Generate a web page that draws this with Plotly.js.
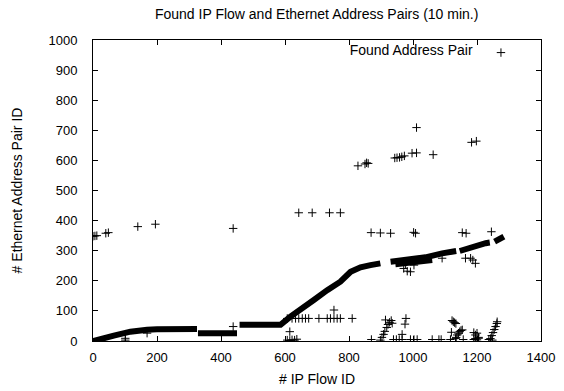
<!DOCTYPE html>
<html>
<head>
<meta charset="utf-8">
<script src="https://cdn.plot.ly/plotly-3.0.1.min.js"></script>
<style>html,body{margin:0;padding:0;background:#fff;}#chart{width:564px;height:391px;}</style>
</head>
<body>
<div id="chart"></div>
<script>
// Dense run of address pairs (read as band segments; null separates segments)
const bandFlowId = [0,10,23,65,96,117,169,200,325,null,
  328,450,null,
  458,586,617,648,690,732,773,805,836,867,883,898,null,
  930,987,1039,1091,1135,null,
  945,1060,null,
  1146,1185,1227,1240,null,
  1255,1284];
const bandPairId = [0,1,6,18,25,31,37,39,40,null,
  26,26,null,
  54,54,81,103,136,169,197,230,245,252,255,258,null,
  263,269,278,291,299,null,
  255,269,null,
  299,313,325,327,null,
  330,347];

// Individual found address pairs
const flowId = [0,6,12,40,48,140,195,438,101,101,169,438,
  828,850,855,860,643,685,739,773,
  869,898,930,1002,1008,
  971,982,992,977,1003,753,
  607,622,633,643,654,664,674,706,732,742,753,763,773,810,
  978,975,
  898,903,908,912,918,922,927,932,935,914,
  615,607,615,622,630,637,
  870,939,948,957,966,992,1003,1013,1060,1081,966,
  1063,1154,1166,1245,
  1164,1180,1187,1195,1091,
  1088,1117,1157,1190,1195,1200,1205,1237,1248,
  1122,1126,1130,1134,1120,1138,1142,1146,1150,1154,1135,1133,
  1190,1195,1200,1205,
  1242,1246,1250,1254,1258,1262,1263,
  943,950,958,965,973,997,1011,1011,1183,1198];
const pairId = [348,349,350,358,360,380,388,374,9,3,26,48,
  582,588,592,590,426,426,426,426,
  360,359,358,361,358,
  241,232,230,255,252,103,
  75,75,75,75,75,75,75,75,75,75,75,75,75,75,
  75,56,
  3,12,22,32,45,55,62,68,59,70,
  31,3,2,4,3,6,
  5,5,5,5,5,5,5,5,5,5,22,
  619,360,358,363,
  275,275,269,258,275,
  5,5,5,5,8,4,9,5,3,
  68,64,61,58,29,20,26,31,35,37,12,8,
  28,20,26,12,
  8,18,28,38,48,58,64,
  608,609,610,612,615,624,625,709,660,664];

const xTicks = [0,200,400,600,800,1000,1200,1400];
const yTicks = [0,100,200,300,400,500,600,700,800,900,1000];

const fontFam = 'Liberation Sans, Arial, sans-serif';

const traces = [
  {x: bandFlowId, y: bandPairId, type: 'scatter', mode: 'lines',
   line: {color: '#000', width: 6}, connectgaps: false, showlegend: false, hoverinfo: 'skip'},
  {x: flowId, y: pairId, type: 'scatter', mode: 'markers', name: '',
   marker: {symbol: 'cross-thin', size: 6, color: '#000', line: {color: '#000', width: 1}}}
];

const axisCommon = {
  showline: true, linecolor: '#000', linewidth: 1, mirror: 'ticks',
  ticks: 'inside', ticklen: 5, tickcolor: '#000', tickwidth: 1,
  showgrid: false, zeroline: false,
  tickfont: {family: fontFam, size: 13, color: '#000'}
};

const layout = {
  width: 564, height: 391,
  margin: {l: 93, r: 23, t: 40, b: 50},
  paper_bgcolor: '#fff', plot_bgcolor: '#fff',
  font: {family: fontFam, color: '#000'},
  title: {text: 'Found IP Flow and Ethernet Address Pairs (10 min.)',
          font: {family: fontFam, size: 14, color: '#000'},
          x: 0.5615, xanchor: 'center', y: 0.963, yanchor: 'middle'},
  xaxis: Object.assign({}, axisCommon, {
    range: [0, 1400], tickvals: xTicks, ticklabelstandoff: 4,
    title: {text: '# IP Flow ID', font: {family: fontFam, size: 14, color: '#000'}, standoff: 10}
  }),
  yaxis: Object.assign({}, axisCommon, {
    range: [0, 1000], tickvals: yTicks, ticklabelstandoff: 12,
    title: {text: '# Ethernet Address Pair ID', font: {family: fontFam, size: 14, color: '#000'}, standoff: 22}
  }),
  showlegend: true,
  legend: {x: 0.968, xanchor: 'right', y: 1.01, yanchor: 'top',
           bgcolor: 'rgba(0,0,0,0)', borderwidth: 0,
           font: {family: fontFam, size: 14, color: '#000'},
           title: {text: 'Found Address Pair', side: 'left', font: {family: fontFam, size: 14, color: '#000'}}}
};

Plotly.newPlot('chart', traces, layout, {displayModeBar: false, staticPlot: true});
</script>
</body>
</html>
